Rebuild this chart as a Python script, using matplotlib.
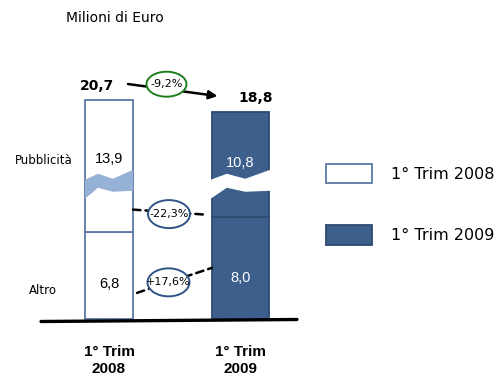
import numpy as np
import matplotlib
matplotlib.use("Agg")
import matplotlib.pyplot as plt
from matplotlib.patches import Ellipse, Patch
from matplotlib.transforms import IdentityTransform

# data (Milioni di Euro)
periods = ["1° Trim 2008", "1° Trim 2009"]
period_labels = [("1° Trim", "2008"), ("1° Trim", "2009")]
altro = [6.8, 8.0]
pubblicita = [13.9, 10.8]
totals = [20.7, 18.8]
chg_total = "-9,2%"
chg_pubblicita = "-22,3%"
chg_altro = "+17,6%"

# broken axis: piecewise linear, lower part stretched, top compressed
KNOTS = np.array([0.0, 8.0, 18.0, 40.0])
SLOPES = np.array([12.8, 9.95, 6.32])
UK = np.concatenate([[0.0], np.cumsum(np.diff(KNOTS) * SLOPES)])


def fwd(v):
    v = np.asarray(v, dtype=float)
    return np.where(v < 0, v * SLOPES[0], np.interp(v, KNOTS, UK))


def inv(u):
    u = np.asarray(u, dtype=float)
    return np.where(u < 0, u / SLOPES[0], np.interp(u, UK, KNOTS))


def num(v):
    return f"{v:.1f}".replace(".", ",")


NAVY = "#3d5f8b"
NAVY_EDGE = "#2e4a70"
EDGE08 = "#5a7aa6"
BAND = "#95b1d5"
GREEN = "#1f7f1f"
OVAL = "#2f5486"

fig = plt.figure(figsize=(5.01, 3.78), dpi=100)
ax = fig.add_axes([0, 0, 1, 1])
ax.set_yscale("function", functions=(fwd, inv))
XPX, X0 = 131.5, 109
ax.set_xlim(-X0 / XPX, (501 - X0) / XPX)
ax.set_ylim(float(inv(-59)), float(inv(319)))
ax.axis("off")

x = np.arange(len(periods))
widths = [0.365, 0.433]
faces = ["white", NAVY]
edges = [EDGE08, NAVY_EDGE]

ax.bar(x, altro, width=widths, color=faces, edgecolor=edges, linewidth=1.3, zorder=2)
ax.bar(x, pubblicita, bottom=altro, width=widths, color=faces, edgecolor=edges,
       linewidth=1.3, zorder=2)

# break marks inside the Pubblicità segment
BREAK_AT = 11.4
fr = np.array([0, 0.27, 0.58, 1.0])
up = np.array([3, 9, 4, 13])
lo = np.array([-16, -5, -9, -8])
for i, col in enumerate([BAND, "white"]):
    pad = 0 if i == 0 else 0.01
    xs = x[i] - widths[i] / 2 - pad + fr * (widths[i] + 2 * pad)
    c = fwd(BREAK_AT)
    poly_x = np.concatenate([xs, xs[::-1]])
    poly_y = inv(np.concatenate([c + up, (c + lo)[::-1]]))
    ax.fill(poly_x, poly_y, color=col, lw=0, zorder=3)

# value labels inside segments
for i in x:
    tc = "black" if i == 0 else "white"
    ax.text(x[i], altro[i] * 0.4, num(altro[i]), ha="center", va="center",
            color=tc, fontsize=10.5, family="Liberation Sans", zorder=4)
    ax.text(x[i], altro[i] + pubblicita[i] * 0.5, num(pubblicita[i]), ha="center",
            va="center", color=tc, fontsize=10.5, family="Liberation Sans", zorder=4)

# totals
for i, dx in zip(x, [-12, 15]):
    ax.annotate(num(totals[i]), (x[i], totals[i]), xytext=(dx, 14),
                textcoords="offset pixels", ha="center", va="center",
                fontsize=10, fontweight="bold")


def disp(xv, v, dx=0, dy=0):
    p = ax.transData.transform((xv, v))
    return np.array([p[0] + dx, p[1] + dy])


def oval(center, w, h, ec, label):
    ax.add_patch(Ellipse(center, w, h, transform=IdentityTransform(), fc="white",
                         ec=ec, lw=1.4, zorder=6))
    ax.annotate(label, center, xycoords="figure pixels", ha="center", va="center",
                fontsize=8, zorder=7)


# total change arrow
p0 = disp(x[0], totals[0], 19, 16)
p1 = disp(x[1], totals[1], -23, 16)
ax.annotate("", xy=p1, xycoords="figure pixels", xytext=p0, textcoords="figure pixels",
            arrowprops=dict(arrowstyle="-|>,head_length=0.5,head_width=0.25",
                            color="black", lw=1.8, shrinkA=0, shrinkB=0), zorder=5)
oval(p0 + 0.43 * (p1 - p0) + np.array([0, 5]), 40, 25, GREEN, chg_total)

# Pubblicità change
q0 = disp(x[0] + widths[0] / 2, altro[1], 0, 7)
q1 = disp(x[1] - widths[1] / 2, altro[1], -7, 2)
ax.annotate("", xy=q1, xycoords="figure pixels", xytext=q0, textcoords="figure pixels",
            arrowprops=dict(arrowstyle="-", color="black", lw=1.8, ls=(0, (3, 2)),
                            shrinkA=0, shrinkB=0), zorder=5)
oval(q0 + 0.5 * (q1 - q0) + np.array([0, -2]), 42, 28, OVAL, chg_pubblicita)

# Altro change
r0 = disp(x[0] + widths[0] / 2, altro[0] * 0.3, 4, 0)
r1 = disp(x[1] - widths[1] / 2, altro[1] * 0.5, 0, 0)
ax.annotate("", xy=r1, xycoords="figure pixels", xytext=r0, textcoords="figure pixels",
            arrowprops=dict(arrowstyle="-", color="black", lw=1.8, ls=(0, (3, 2)),
                            shrinkA=0, shrinkB=0), zorder=5)
oval(r0 + 0.42 * (r1 - r0), 42, 28, OVAL, chg_altro)

# baseline
b0 = disp(x[0] - widths[0] / 2, 0, -44, -2.5)
b1 = disp(x[1] + widths[1] / 2, 0, 28, -0.5)
ax.annotate("", xy=b1, xycoords="figure pixels", xytext=b0, textcoords="figure pixels",
            arrowprops=dict(arrowstyle="-", color="black", lw=2.4, shrinkA=0, shrinkB=0))

# category labels
for i in x:
    for line, dy in zip(period_labels[i], [-33, -50]):
        ax.annotate(line, (x[i], 0), xytext=(0, dy), textcoords="offset pixels",
                    ha="center", va="center", fontsize=11, fontweight="bold",
                    family="Liberation Sans")

fig.text(66 / 501, 1 - 18 / 378, "Milioni di Euro", va="center", fontsize=10)
fig.text(15 / 501, 1 - 160 / 378, "Pubblicità", va="center", fontsize=8.5)
fig.text(29 / 501, 1 - 290 / 378, "Altro", va="center", fontsize=8.5)

handles = [Patch(facecolor=faces[i], edgecolor=edges[i], linewidth=1.3) for i in x]
fig.legend(handles, periods, loc="upper left", bbox_to_anchor=(326 / 501, 1 - 164 / 378),
           frameon=False, borderpad=0, borderaxespad=0, handlelength=2.9,
           handleheight=1.5, handletextpad=1.2, labelspacing=2.6, fontsize=11.5)

fig.savefig("out.png", dpi=100)
